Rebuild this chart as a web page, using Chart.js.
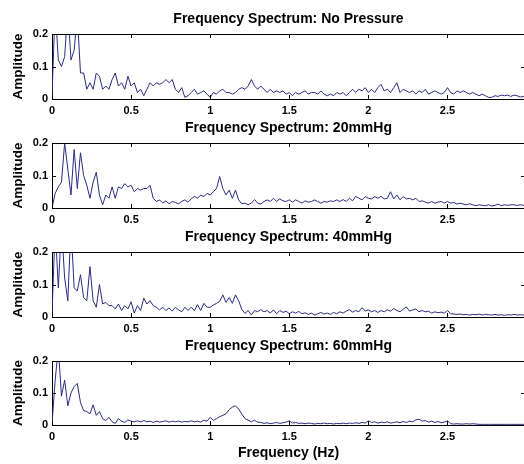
<!DOCTYPE html>
<html>
<head>
<meta charset="utf-8">
<script src="https://cdn.jsdelivr.net/npm/chart.js@4.4.0/dist/chart.umd.min.js"></script>
<style>
  html, body { margin: 0; padding: 0; background: #fff; overflow: hidden; }
  #wrap { position: relative; width: 524px; height: 464px; overflow: hidden; }
  #wrap canvas { position: absolute; left: 0; }
</style>
</head>
<body>
<div id="wrap">
  <canvas id="c0"></canvas>
  <canvas id="c1"></canvas>
  <canvas id="c2"></canvas>
  <canvas id="c3"></canvas>
</div>
<script>
// spectra sampled every 0.02 Hz from 0 to 3 Hz
const freqStep = 0.02;

const panelTitles = [
  'Frequency Spectrum: No Pressure',
  'Frequency Spectrum: 20mmHg',
  'Frequency Spectrum: 40mmHg',
  'Frequency Spectrum: 60mmHg'
];

const ampNoPressure = [
  0.01, 0.28, 0.12, 0.10, 0.13, 0.28, 0.12, 0.15, 0.26, 0.08,
  0.08, 0.03, 0.05, 0.03, 0.08, 0.07, 0.03, 0.04, 0.03, 0.06,
  0.08, 0.04, 0.05, 0.03, 0.07, 0.04, 0.05, 0.02, 0.03, 0.01,
  0.03, 0.05, 0.04, 0.05, 0.045, 0.05, 0.06, 0.05, 0.06, 0.03,
  0.02, 0.035, 0.005, 0.01, 0.02, 0.03, 0.015, 0.02, 0.025, 0.015,
  0.005, 0.02, 0.015, 0.025, 0.03, 0.02, 0.02, 0.015, 0.02, 0.03,
  0.035, 0.03, 0.04, 0.06, 0.04, 0.03, 0.04, 0.03, 0.02, 0.03,
  0.02, 0.025, 0.02, 0.025, 0.015, 0.02, 0.01, 0.02, 0.015, 0.02,
  0.025, 0.015, 0.02, 0.02, 0.015, 0.025, 0.015, 0.01, 0.015, 0.01,
  0.02, 0.015, 0.02, 0.01, 0.02, 0.03, 0.02, 0.03, 0.025, 0.035,
  0.02, 0.03, 0.02, 0.035, 0.045, 0.025, 0.03, 0.02, 0.035, 0.05,
  0.02, 0.03, 0.025, 0.02, 0.025, 0.015, 0.025, 0.02, 0.03, 0.015,
  0.02, 0.025, 0.02, 0.015, 0.02, 0.035, 0.02, 0.015, 0.025, 0.02,
  0.025, 0.02, 0.015, 0.02, 0.015, 0.01, 0.015, 0.01, 0.005, 0.005,
  0.01, 0.008, 0.012, 0.01, 0.012, 0.008, 0.012, 0.01, 0.006, 0.008,
  0.008
];

const amp20mmHg = [
  0.0, 0.045, 0.065, 0.08, 0.20, 0.12, 0.04, 0.18, 0.06, 0.17,
  0.10, 0.07, 0.03, 0.08, 0.11, 0.04, 0.01, 0.04, 0.03, 0.065,
  0.03, 0.065, 0.06, 0.075, 0.065, 0.07, 0.05, 0.06, 0.055, 0.06,
  0.06, 0.07, 0.03, 0.02, 0.025, 0.015, 0.022, 0.013, 0.02, 0.017,
  0.013, 0.02, 0.025, 0.018, 0.028, 0.036, 0.03, 0.04, 0.035, 0.045,
  0.04, 0.05, 0.06, 0.097, 0.06, 0.04, 0.055, 0.03, 0.055, 0.025,
  0.013, 0.015, 0.01, 0.015, 0.026, 0.015, 0.012, 0.02, 0.025, 0.02,
  0.03, 0.02, 0.028, 0.022, 0.02, 0.025, 0.018, 0.025, 0.02, 0.015,
  0.022, 0.018, 0.02, 0.025, 0.02, 0.015, 0.02, 0.018, 0.022, 0.02,
  0.025, 0.02, 0.026, 0.02, 0.03, 0.022, 0.036, 0.03, 0.025, 0.035,
  0.03, 0.028, 0.035, 0.03, 0.036, 0.028, 0.03, 0.05, 0.028, 0.04,
  0.025, 0.035, 0.028, 0.03, 0.025, 0.03, 0.02, 0.022, 0.018, 0.015,
  0.02, 0.015, 0.018, 0.02, 0.015, 0.02, 0.015, 0.017, 0.012, 0.015,
  0.012, 0.01, 0.013, 0.01, 0.007, 0.01, 0.008, 0.007, 0.01, 0.006,
  0.008, 0.012, 0.007, 0.01, 0.008, 0.01, 0.01, 0.008, 0.01, 0.008,
  0.008
];

const amp40mmHg = [
  0.006, 0.28, 0.09, 0.28, 0.12, 0.05, 0.28, 0.09, 0.08, 0.13,
  0.06, 0.05, 0.155, 0.05, 0.03, 0.10, 0.04, 0.045, 0.035, 0.035,
  0.025, 0.04, 0.02, 0.035, 0.025, 0.047, 0.012, 0.035, 0.02, 0.058,
  0.04, 0.05, 0.035, 0.03, 0.022, 0.03, 0.02, 0.028, 0.018, 0.03,
  0.022, 0.016, 0.03, 0.02, 0.03, 0.02, 0.038, 0.02, 0.042, 0.03,
  0.03, 0.037, 0.042, 0.048, 0.068, 0.045, 0.06, 0.042, 0.068, 0.05,
  0.023, 0.011, 0.02, 0.006, 0.02, 0.016, 0.023, 0.016, 0.02, 0.012,
  0.022, 0.01, 0.02, 0.014, 0.018, 0.01, 0.016, 0.012, 0.017, 0.01,
  0.013, 0.008, 0.012, 0.006, 0.01, 0.014, 0.009, 0.012, 0.008, 0.014,
  0.01, 0.016, 0.012, 0.018, 0.023, 0.015, 0.02, 0.016, 0.029, 0.018,
  0.022, 0.016, 0.02, 0.014, 0.02, 0.016, 0.022, 0.018, 0.026, 0.02,
  0.016, 0.024, 0.031, 0.018, 0.022, 0.025, 0.016, 0.02, 0.016, 0.018,
  0.012, 0.016, 0.013, 0.015, 0.012, 0.02, 0.01, 0.009, 0.008, 0.009,
  0.007, 0.008, 0.006, 0.008, 0.007, 0.009, 0.006, 0.008, 0.007, 0.006,
  0.008, 0.006, 0.007, 0.005, 0.007, 0.006, 0.008, 0.006, 0.007, 0.006,
  0.006
];

const amp60mmHg = [
  0.003, 0.14, 0.24, 0.09, 0.14, 0.06, 0.10, 0.12, 0.13, 0.07,
  0.045, 0.042, 0.035, 0.063, 0.03, 0.042, 0.02, 0.014, 0.024, 0.01,
  0.005, 0.02, 0.012, 0.008, 0.016, 0.012, 0.01, 0.013, 0.01, 0.014,
  0.01, 0.012, 0.008, 0.012, 0.009, 0.011, 0.013, 0.009, 0.012, 0.01,
  0.012, 0.009, 0.011, 0.01, 0.013, 0.01, 0.012, 0.009, 0.015, 0.012,
  0.024, 0.014, 0.02, 0.026, 0.03, 0.035, 0.048, 0.056, 0.06, 0.05,
  0.034, 0.02, 0.015, 0.01, 0.015, 0.009, 0.008, 0.005, 0.007, 0.004,
  0.006, 0.008, 0.005, 0.007, 0.009, 0.013, 0.006, 0.008, 0.005, 0.006,
  0.004, 0.006, 0.005, 0.003, 0.005, 0.004, 0.006, 0.004, 0.005, 0.003,
  0.005, 0.004, 0.006, 0.004, 0.006, 0.005, 0.007, 0.005, 0.008, 0.006,
  0.013, 0.008, 0.01, 0.006, 0.009, 0.007, 0.01, 0.006, 0.008, 0.01,
  0.007, 0.011, 0.008, 0.012, 0.01, 0.016, 0.018, 0.012, 0.014, 0.009,
  0.012, 0.008, 0.011, 0.007, 0.009, 0.013, 0.004, 0.003, 0.004, 0.003,
  0.003, 0.004, 0.003, 0.004, 0.003, 0.002, 0.002, 0.002, 0.002, 0.002,
  0.002, 0.002, 0.002, 0.002, 0.002, 0.002, 0.002, 0.002, 0.002, 0.002,
  0.002
];

const spectra = [ampNoPressure, amp20mmHg, amp40mmHg, amp60mmHg];

const yTickValues = [0, 0.1, 0.2];
const xTickStep = 0.5;
const xMax = 2.99;

// layout of the four stacked panels (canvases overlap, they are transparent)
const canvasTops = [0, 109, 218, 327];
const canvasHeights = [122, 122, 122, 137];
const plotBottoms = [99, 99, 99, 98];
const canvasWidth = 525;

const lineColor = '#2a2a82';
const fontFamily = "Arial, 'Liberation Sans', sans-serif";

Chart.defaults.font.family = fontFamily;
Chart.defaults.color = '#000';

// tick labels without trailing zeros: 0, 0.5, 1, 1.5 ...
const tickLabel = v => String(+Number(v).toFixed(2));

// box around the plot area plus MATLAB-style inward tick marks
const frameTicks = {
  id: 'frameTicks',
  afterDatasetsDraw(chart) {
    const { ctx, chartArea: a, scales: { x, y } } = chart;
    ctx.save();
    ctx.strokeStyle = '#000';
    ctx.lineWidth = 1;
    ctx.beginPath();
    ctx.moveTo(a.left, a.top + 0.5);
    ctx.lineTo(a.right, a.top + 0.5);
    x.ticks.forEach(t => {
      const px = Math.round(x.getPixelForValue(t.value)) + 0.5;
      ctx.moveTo(px, a.top);
      ctx.lineTo(px, a.top + 4);
      ctx.moveTo(px, a.bottom);
      ctx.lineTo(px, a.bottom - 4);
    });
    y.ticks.forEach(t => {
      const py = Math.round(y.getPixelForValue(t.value)) + 0.5;
      ctx.moveTo(a.left, py);
      ctx.lineTo(a.left + 4, py);
      ctx.moveTo(a.right, py);
      ctx.lineTo(a.right - 4, py);
    });
    ctx.stroke();
    ctx.restore();
  }
};

spectra.forEach((values, i) => {
  const canvas = document.getElementById('c' + i);
  const h = canvasHeights[i];
  canvas.width = canvasWidth;
  canvas.height = h;
  canvas.style.top = canvasTops[i] + 'px';
  const isLast = i === spectra.length - 1;

  const points = values.map((v, k) => ({ x: +(k * freqStep).toFixed(2), y: v }));

  new Chart(canvas, {
    type: 'line',
    data: {
      datasets: [{
        data: points,
        borderColor: lineColor,
        borderWidth: 1,
        pointRadius: 0,
        tension: 0,
        fill: false
      }]
    },
    options: {
      responsive: false,
      animation: false,
      events: [],
      layout: { padding: 0 },
      plugins: {
        legend: { display: false },
        tooltip: { enabled: false },
        title: {
          display: true,
          text: panelTitles[i],
          fullSize: false,
          color: '#000',
          font: { size: 14, weight: 'bold' },
          padding: { top: 10.7, bottom: 6.5 }
        }
      },
      scales: {
        x: {
          type: 'linear',
          min: 0,
          max: xMax,
          grid: { display: false, drawTicks: false },
          border: { display: true, color: '#000', width: 1 },
          ticks: {
            stepSize: xTickStep,
            includeBounds: false,
            autoSkip: false,
            maxRotation: 0,
            padding: 5,
            color: '#000',
            font: { size: 11, weight: 'bold' },
            callback: tickLabel
          },
          title: {
            display: isLast,
            text: 'Frequency (Hz)',
            color: '#000',
            font: { size: 14, weight: 'bold' },
            padding: { top: 0, bottom: 2 }
          },
          afterFit: s => { s.height = h - plotBottoms[i]; }
        },
        y: {
          min: 0,
          max: 0.2,
          grid: { display: false, drawTicks: false },
          border: { display: true, color: '#000', width: 1 },
          afterBuildTicks: s => { s.ticks = yTickValues.map(v => ({ value: v })); },
          ticks: {
            padding: 4,
            color: '#000',
            font: { size: 11, weight: 'bold' },
            callback: tickLabel
          },
          title: {
            display: true,
            text: 'Amplitude',
            color: '#000',
            font: { size: 13.5, weight: 'bold' },
            padding: { top: 10, bottom: 0 }
          },
          afterFit: s => { s.width = 52; }
        }
      }
    },
    plugins: [frameTicks]
  });
});
</script>
</body>
</html>
